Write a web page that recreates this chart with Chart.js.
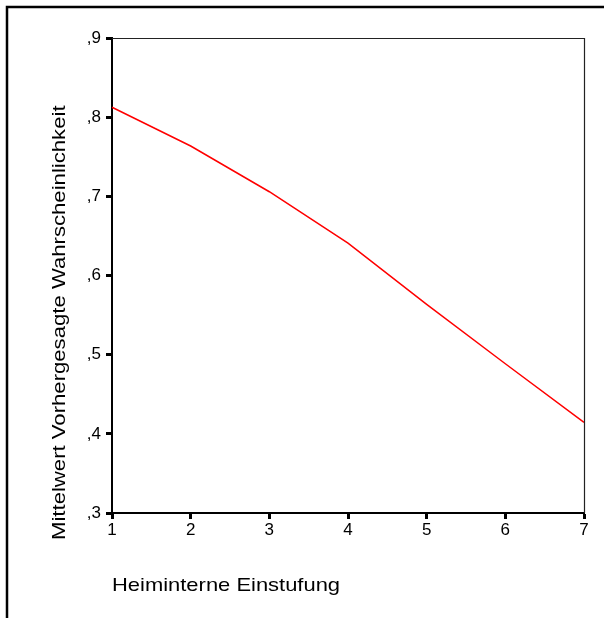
<!DOCTYPE html>
<html>
<head>
<meta charset="utf-8">
<script src="https://cdn.jsdelivr.net/npm/chart.js@4.4.1/dist/chart.umd.min.js"></script>
<style>
  html, body { margin: 0; padding: 0; background: #fff; }
  #wrap { width: 604px; height: 618px; position: relative; }
</style>
</head>
<body>
<div id="wrap"><canvas id="c" width="604" height="618"></canvas></div>
<script>
const categories = ['1', '2', '3', '4', '5', '6', '7'];
const predictedMean = [0.8125, 0.7636, 0.7058, 0.6410, 0.5636, 0.4885, 0.4146];
const yTickValues = [0.3, 0.4, 0.5, 0.6, 0.7, 0.8, 0.9];
const yTickLabels = [',3', ',4', ',5', ',6', ',7', ',8', ',9'];
const xTitle = 'Heiminterne Einstufung';
const yTitle = 'Mittelwert Vorhergesagte Wahrscheinlichkeit';

const FONT = '"Liberation Sans", Arial, sans-serif';

const framePlugin = {
  id: 'frame',
  afterDraw(chart) {
    const ctx = chart.ctx;
    const a = chart.chartArea;
    ctx.save();
    // outer frame (cut at right/bottom)
    ctx.strokeStyle = '#000';
    ctx.lineWidth = 2.5;
    ctx.beginPath();
    ctx.moveTo(7, 618);
    ctx.lineTo(7, 7);
    ctx.lineTo(604, 7);
    ctx.stroke();
    // thin top/right plot border
    ctx.strokeStyle = '#222';
    ctx.lineWidth = 1.2;
    ctx.beginPath();
    ctx.moveTo(a.left, a.top + 0.5);
    ctx.lineTo(a.right + 0.5, a.top + 0.5);
    ctx.lineTo(a.right + 0.5, a.bottom);
    ctx.stroke();
    // axis titles (slightly wide font as in reference)
    ctx.fillStyle = '#000';
    ctx.font = '18.6px ' + FONT;
    ctx.textAlign = 'left';
    ctx.textBaseline = 'alphabetic';
    ctx.save();
    ctx.translate(a.left, 591);
    ctx.scale(1.18, 1);
    ctx.fillText(xTitle, 0, 0);
    ctx.restore();
    ctx.save();
    ctx.translate(65, 540);
    ctx.rotate(-Math.PI / 2);
    ctx.scale(1.19, 1);
    ctx.fillText(yTitle, 0, 0);
    ctx.restore();
    ctx.restore();
  }
};

new Chart(document.getElementById('c'), {
  type: 'line',
  data: {
    labels: categories,
    datasets: [{
      data: predictedMean,
      borderColor: '#ff0000',
      borderWidth: 1.5,
      pointRadius: 0,
      tension: 0,
      fill: false
    }]
  },
  options: {
    responsive: false,
    animation: false,
    devicePixelRatio: 1,
    layout: { padding: { left: 0, right: 20, top: 38, bottom: 0 } },
    plugins: { legend: { display: false }, tooltip: { enabled: false } },
    scales: {
      x: {
        type: 'category',
        offset: false,
        afterFit(s) { s.height = 105; },
        border: { display: true, color: '#000', width: 2 },
        grid: { drawOnChartArea: false, drawTicks: true, tickLength: 6, tickWidth: 3, tickColor: '#000' },
        ticks: { color: '#000', font: { family: FONT, size: 17 }, padding: 1, maxRotation: 0 },
        title: { display: false }
      },
      y: {
        min: 0.3,
        max: 0.9,
        afterFit(s) { s.width = 112; },
        afterBuildTicks(s) { s.ticks = yTickValues.map(v => ({ value: v })); },
        border: { display: true, color: '#000', width: 2 },
        grid: { drawOnChartArea: false, drawTicks: true, tickLength: 6, tickWidth: 3, tickColor: '#000' },
        ticks: {
          color: '#000',
          font: { family: FONT, size: 17 },
          padding: 5,
          callback(v) {
            const i = yTickValues.findIndex(t => Math.abs(t - v) < 1e-6);
            return i >= 0 ? yTickLabels[i] : '';
          }
        },
        title: { display: false }
      }
    }
  },
  plugins: [framePlugin]
});
</script>
</body>
</html>
